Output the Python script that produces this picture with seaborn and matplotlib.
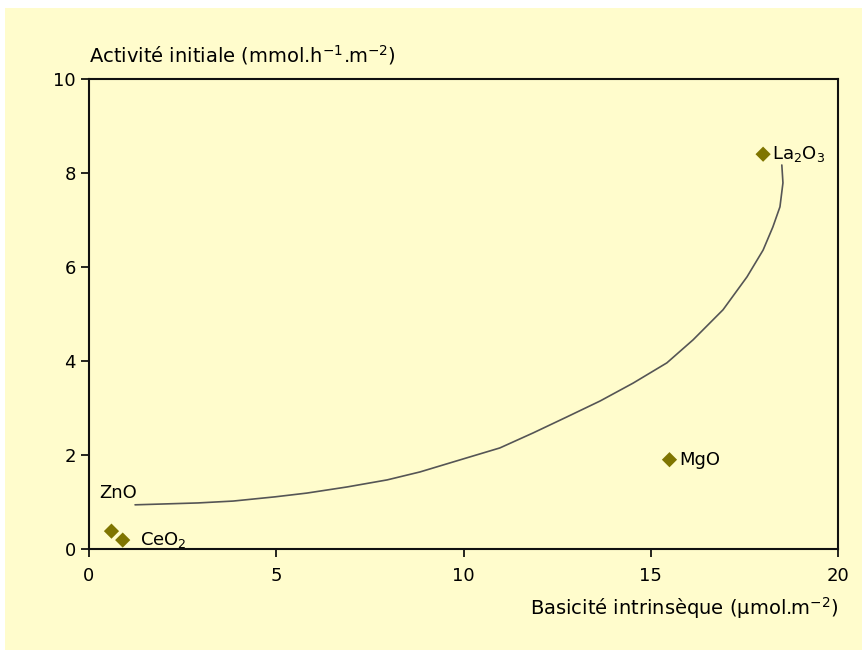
import matplotlib
matplotlib.use('Agg')
import matplotlib.pyplot as plt
import matplotlib.patches as mpatches
import seaborn as sns
import pandas as pd

# Data
oxides = ['ZnO', 'CeO$_2$', 'MgO', 'La$_2$O$_3$']
basicite = [0.6, 0.9, 15.5, 18.0]
activite = [0.38, 0.19, 1.9, 8.4]

# hand-drawn trend curve
curve_x = [1.23, 2.91, 3.85, 4.97, 5.82, 6.89, 7.96, 8.84, 10.09, 10.97, 11.86,
           12.76, 13.65, 14.53, 15.43, 16.13, 16.93, 17.57, 18.0, 18.26, 18.45,
           18.53, 18.5]
curve_y = [0.94, 0.98, 1.02, 1.11, 1.19, 1.32, 1.47, 1.64, 1.94, 2.15, 2.47,
           2.81, 3.15, 3.53, 3.96, 4.45, 5.09, 5.79, 6.36, 6.85, 7.28,
           7.79, 8.17]

df = pd.DataFrame({'oxide': oxides, 'basicite': basicite, 'activite': activite})
df_curve = pd.DataFrame({'x': curve_x, 'y': curve_y})

bg = '#FFFCCC'
sns.set_style('ticks')
plt.rcParams['font.family'] = ['DejaVu Sans']
plt.rcParams['text.color'] = 'black'

fig = plt.figure(figsize=(8.64, 6.56), dpi=100, facecolor='white')
fig.patches.append(mpatches.Rectangle((5 / 864, 6 / 656), 857 / 864, 642 / 656,
                                      transform=fig.transFigure, facecolor=bg,
                                      edgecolor='none', zorder=-1))
ax = fig.add_axes([89 / 864, 1 - 549 / 656, 749 / 864, 470 / 656])
ax.set_facecolor(bg)

sns.lineplot(data=df_curve, x='x', y='y', sort=False, color='#555555',
             linewidth=1.2, ax=ax)
sns.scatterplot(data=df, x='basicite', y='activite', marker='D', s=60,
                color='#7F7500', edgecolor='none', ax=ax, zorder=3)

# point labels
label_pos = {'ZnO': (0.28, 1.19), 'CeO$_2$': (1.35, 0.19),
             'MgO': (15.75, 1.9), 'La$_2$O$_3$': (18.25, 8.4)}
for name in oxides:
    tx, ty = label_pos[name]
    ax.text(tx, ty, name, fontsize=13, va='center', ha='left', color='black')

ax.set_xlim(0, 20)
ax.set_ylim(0, 10)
ax.set_xticks([0, 5, 10, 15, 20])
ax.set_yticks([0, 2, 4, 6, 8, 10])
ax.tick_params(direction='out', length=6, width=1.2, labelsize=13,
               colors='black')
ax.tick_params(axis='x', pad=7)
for s in ax.spines.values():
    s.set_visible(True)
    s.set_linewidth(1.5)
    s.set_color('#111111')

ax.set_xlabel('')
ax.set_ylabel('')
ax.text(0, 10.25, 'Activité initiale (mmol.h$^{-1}$.m$^{-2}$)', fontsize=14,
        ha='left', va='bottom', color='black')
ax.text(20, -1.25, 'Basicité intrinsèque (µmol.m$^{-2}$)', fontsize=14,
        ha='right', va='center', color='black')

plt.savefig('out.png', dpi=100, facecolor='white')
